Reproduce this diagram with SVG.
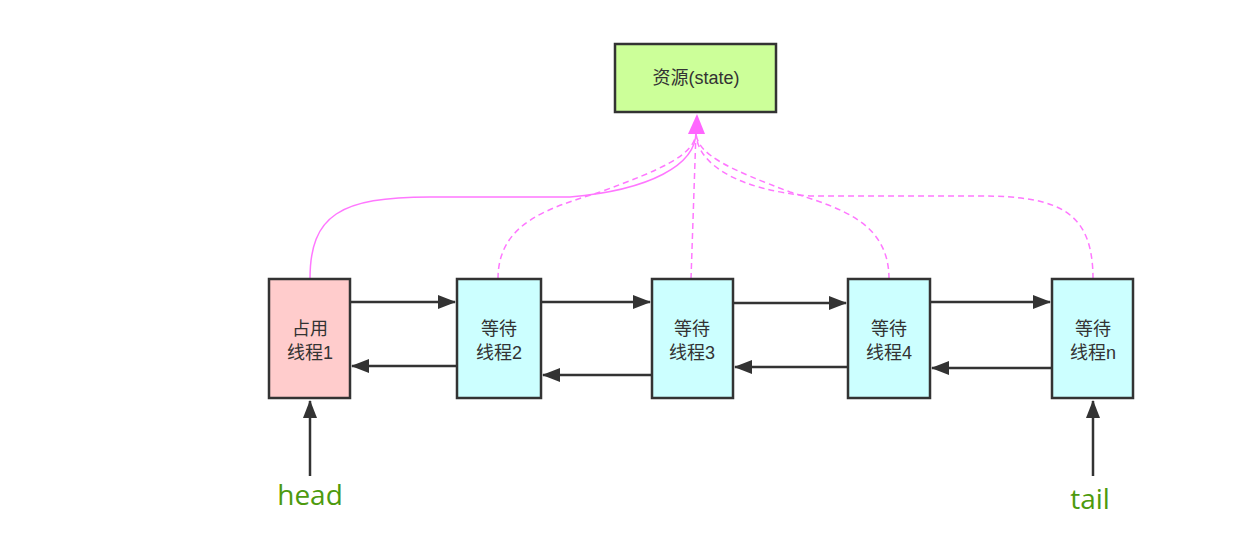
<svg xmlns="http://www.w3.org/2000/svg" width="1241" height="545" viewBox="0 0 1241 545">
<style>
.box{stroke:#333;stroke-width:2.5}
.res{fill:#CCFF99}
.hold{fill:#FFCCCC}
.wait{fill:#CCFFFF}
.t{font-family:"Liberation Sans","Noto Sans CJK SC",sans-serif;font-size:18px;fill:#333;text-anchor:middle}
.lbl{font-family:"Open Sans","Liberation Sans",sans-serif;font-size:28px;fill:#4D9A0E;text-anchor:middle}
.link{stroke:#333;stroke-width:2.5;fill:none;marker-end:url(#ah)}
.pink{stroke:#FF77FF;stroke-width:1.5;fill:none}
.dash{stroke-dasharray:6 4}
</style>
<defs>
<marker id="ah" viewBox="0 0 18 14" refX="17" refY="7" markerWidth="7.2" markerHeight="5.6" markerUnits="strokeWidth" orient="auto">
<path d="M0,0 L18,7 L0,14 Z" fill="#333"/>
</marker>
</defs>
<g id="connectors">
<path class="pink" d="M310,279 C310,215 340,197 430,197 L570,197 C650,190 696,165 696,132"/>
<path class="pink dash" d="M498,279 C498,222 550,208 600,192 C660,170 696,155 696,132"/>
<path class="pink dash" d="M691,279 L696,132"/>
<path class="pink dash" d="M889,279 C889,222 840,208 790,192 C732,170 696,155 696,132"/>
<path class="pink dash" d="M1093,279 C1093,212 1060,196 980,196 L810,196 C740,190 696,165 696,132"/>
<path d="M688,134 L697,114 L705,134 Z" fill="#FF66FF"/>
<path class="link" d="M351,302 L455,302"/>
<path class="link" d="M456,366 L352,366"/>
<path class="link" d="M542,302 L650,302"/>
<path class="link" d="M651,375 L543,375"/>
<path class="link" d="M734,303 L846,303"/>
<path class="link" d="M847,367 L735,367"/>
<path class="link" d="M931,302 L1050,302"/>
<path class="link" d="M1051,368 L932,368"/>
<path class="link" d="M310,476 L310,401"/>
<path class="link" d="M1093,476 L1093,401"/>
</g>
<g id="resource">
<rect class="box res" x="615" y="44" width="161" height="68"/>
<text class="t" x="696" y="84">资源(state)</text>
</g>
<g id="thread1">
<rect class="box hold" x="269" y="279" width="81" height="119"/>
<text class="t" x="310" y="335">占用</text>
<text class="t" x="310" y="359">线程1</text>
</g>
<g id="thread2">
<rect class="box wait" x="457" y="279" width="84" height="119"/>
<text class="t" x="499" y="335">等待</text>
<text class="t" x="499" y="359">线程2</text>
</g>
<g id="thread3">
<rect class="box wait" x="652" y="279" width="81" height="119"/>
<text class="t" x="692" y="335">等待</text>
<text class="t" x="692" y="359">线程3</text>
</g>
<g id="thread4">
<rect class="box wait" x="848" y="279" width="82" height="119"/>
<text class="t" x="889" y="335">等待</text>
<text class="t" x="889" y="359">线程4</text>
</g>
<g id="threadn">
<rect class="box wait" x="1052" y="279" width="81" height="119"/>
<text class="t" x="1093" y="335">等待</text>
<text class="t" x="1093" y="359">线程n</text>
</g>
<g id="head">
<text class="lbl" x="310" y="505">head</text>
</g>
<g id="tail">
<text class="lbl" x="1090" y="509">tail</text>
</g>
</svg>
